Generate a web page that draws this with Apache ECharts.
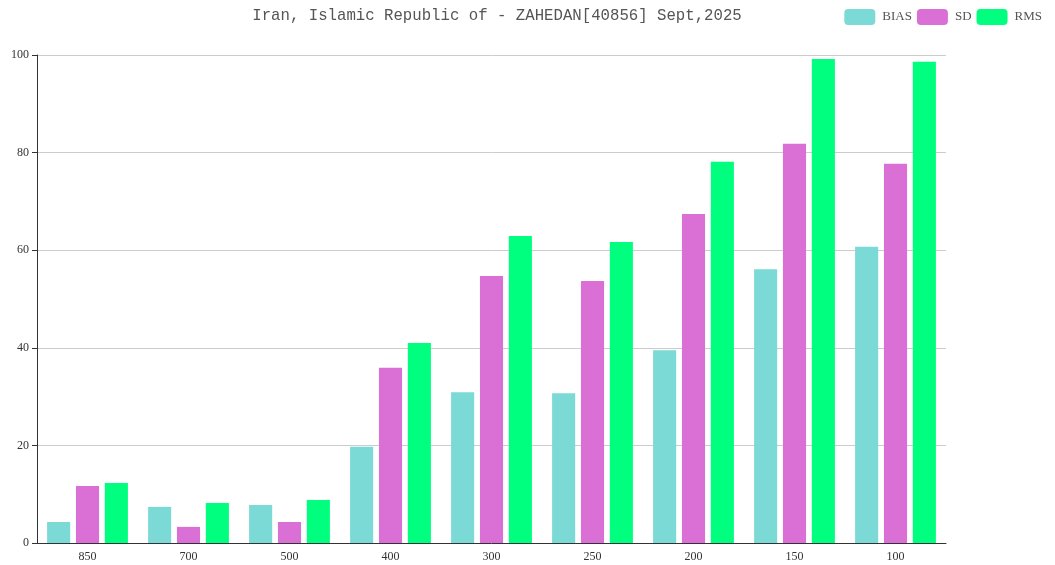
<!DOCTYPE html>
<html lang="en">

<head>
    <meta charset="UTF-8">
    <title>ZAHEDAN</title>
    <script src="https://cdn.jsdelivr.net/npm/echarts@6/dist/echarts.min.js"></script>
    <style>
        body { margin: 0; }
        #main { width: 1055px; height: 565px; }
    </style>
</head>

<body>
    <div id="main"></div>
    <script>
        var levels = ['850', '700', '500', '400', '300', '250', '200', '150', '100'];
        var bias = [4.3, 7.4, 7.8, 19.7, 30.9, 30.7, 39.5, 56.1, 60.7];
        var sd = [11.7, 3.3, 4.3, 35.9, 54.7, 53.7, 67.4, 81.8, 77.7];
        var rms = [12.3, 8.2, 8.8, 41.0, 62.9, 61.7, 78.1, 99.2, 98.6];

        var chart = echarts.init(document.getElementById('main'));
        var serif = 'Liberation Serif';
        var mono = 'Liberation Mono';

        chart.setOption({
            animation: false,
            title: {
                text: 'Iran, Islamic Republic of - ZAHEDAN[40856] Sept,2025',
                left: 492,
                textAlign: 'center',
                top: 3,
                textStyle: { fontFamily: mono, fontSize: 15.7, fontWeight: 'normal', color: '#555' }
            },
            legend: {
                right: 8,
                top: 4,
                itemWidth: 31,
                itemHeight: 16,
                itemGap: 5,
                textStyle: { fontFamily: serif, fontSize: 13, color: '#555', padding: [0, 0, 0, 2] }
            },
            grid: { left: 37, right: 109, top: 55, bottom: 22 },
            xAxis: {
                type: 'category',
                data: levels,
                axisLine: { lineStyle: { color: '#333' } },
                axisTick: { lineStyle: { color: '#333' } },
                axisLabel: { fontFamily: serif, fontSize: 12, color: '#333' }
            },
            yAxis: {
                type: 'value',
                min: 0,
                max: 100,
                interval: 20,
                axisLine: { show: true, lineStyle: { color: '#333' } },
                axisTick: { show: true, lineStyle: { color: '#333' } },
                axisLabel: { fontFamily: serif, fontSize: 12, color: '#333' },
                splitLine: { lineStyle: { color: '#ccc' } }
            },
            series: [
                { name: 'BIAS', type: 'bar', data: bias, barGap: '25%', barCategoryGap: '20%', itemStyle: { color: '#7bdad6' } },
                { name: 'SD', type: 'bar', data: sd, itemStyle: { color: '#da70d6' } },
                { name: 'RMS', type: 'bar', data: rms, itemStyle: { color: '#00ff7f' } }
            ]
        });
    </script>
</body>

</html>
